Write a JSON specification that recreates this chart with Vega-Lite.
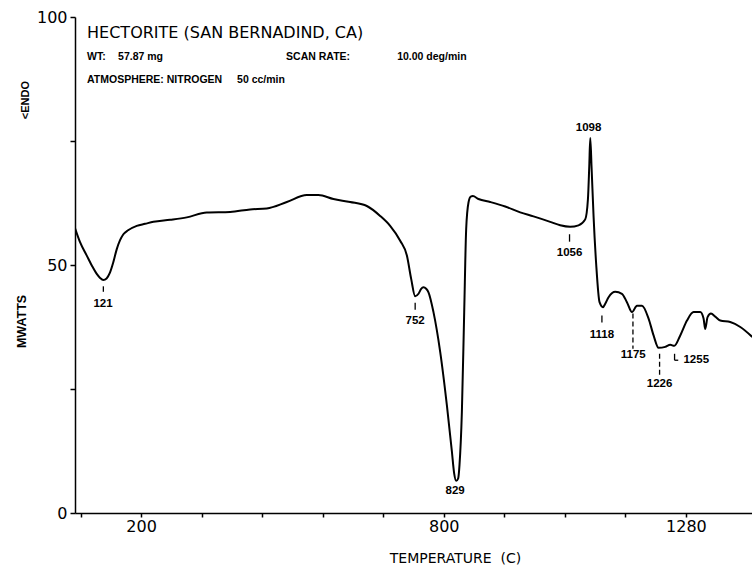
{
  "$schema": "https://vega.github.io/schema/vega-lite/v6.json",
  "autosize": "none",
  "width": 677,
  "height": 496,
  "padding": {"left": 75, "top": 17, "right": 0, "bottom": 53},
  "background": "white",
  "config": {"view": {"stroke": null}},
  "title": {"text": "<ENDO", "orient": "left", "anchor": "end", "frame": "group", "font": "Liberation Sans", "fontSize": 11, "fontWeight": "bold", "color": "black", "offset": 0, "dx": -64, "dy": 16},
  "datasets": {
    "curve": [
      {"t": 69.1, "mw": 57.4}, {"t": 79.0, "mw": 54.6}, {"t": 92.3, "mw": 51.9}, {"t": 102.8, "mw": 49.8},
      {"t": 112.1, "mw": 48.2}, {"t": 118.7, "mw": 47.4}, {"t": 125.2, "mw": 47.0}, {"t": 131.6, "mw": 47.3},
      {"t": 138.5, "mw": 48.5}, {"t": 144.5, "mw": 50.4}, {"t": 151.8, "mw": 53.2}, {"t": 158.3, "mw": 55.0},
      {"t": 164.9, "mw": 56.2}, {"t": 174.2, "mw": 57.0}, {"t": 191.4, "mw": 57.9}, {"t": 207.9, "mw": 58.3},
      {"t": 224.4, "mw": 58.7}, {"t": 257.5, "mw": 59.1}, {"t": 290.6, "mw": 59.6}, {"t": 330.2, "mw": 60.6},
      {"t": 376.5, "mw": 60.7}, {"t": 416.1, "mw": 61.2}, {"t": 449.2, "mw": 61.4}, {"t": 488.9, "mw": 62.7},
      {"t": 528.5, "mw": 64.1}, {"t": 551.5, "mw": 64.1}, {"t": 581.3, "mw": 63.3}, {"t": 614.4, "mw": 62.7},
      {"t": 647.5, "mw": 61.9}, {"t": 673.9, "mw": 59.9}, {"t": 693.7, "mw": 57.9}, {"t": 713.6, "mw": 54.9},
      {"t": 726.9, "mw": 51.9}, {"t": 735.4, "mw": 47.2}, {"t": 743.3, "mw": 43.7}, {"t": 749.9, "mw": 44.2},
      {"t": 755.2, "mw": 45.2}, {"t": 759.8, "mw": 45.5}, {"t": 765.1, "mw": 45.2}, {"t": 769.7, "mw": 44.5},
      {"t": 779.6, "mw": 40.5}, {"t": 792.9, "mw": 32.5}, {"t": 806.2, "mw": 21.7}, {"t": 816.1, "mw": 12.4},
      {"t": 820.6, "mw": 8.0}, {"t": 824.6, "mw": 6.5}, {"t": 828.6, "mw": 7.0}, {"t": 831.2, "mw": 9.7},
      {"t": 835.9, "mw": 20.4}, {"t": 840.5, "mw": 40.5}, {"t": 844.4, "mw": 57.2}, {"t": 849.0, "mw": 62.6},
      {"t": 853.4, "mw": 63.8}, {"t": 857.7, "mw": 63.9}, {"t": 868.8, "mw": 63.3}, {"t": 892.0, "mw": 62.7},
      {"t": 921.8, "mw": 61.8}, {"t": 951.5, "mw": 60.6}, {"t": 977.9, "mw": 59.8}, {"t": 1011.0, "mw": 58.7},
      {"t": 1030.8, "mw": 58.0}, {"t": 1050.6, "mw": 57.7}, {"t": 1067.1, "mw": 58.0}, {"t": 1080.4, "mw": 59.2},
      {"t": 1085.8, "mw": 63.3}, {"t": 1088.4, "mw": 69.9}, {"t": 1090.4, "mw": 75.6}, {"t": 1092.9, "mw": 69.9},
      {"t": 1096.9, "mw": 59.9}, {"t": 1102.3, "mw": 49.9}, {"t": 1108.8, "mw": 42.5}, {"t": 1115.6, "mw": 41.5},
      {"t": 1120.1, "mw": 42.2}, {"t": 1126.7, "mw": 43.5}, {"t": 1140.0, "mw": 44.6}, {"t": 1153.2, "mw": 44.2},
      {"t": 1163.1, "mw": 42.5}, {"t": 1173.1, "mw": 40.5}, {"t": 1183.0, "mw": 41.8}, {"t": 1192.9, "mw": 41.8},
      {"t": 1206.0, "mw": 39.2}, {"t": 1215.9, "mw": 35.8}, {"t": 1225.8, "mw": 33.3}, {"t": 1239.1, "mw": 33.5},
      {"t": 1249.0, "mw": 33.9}, {"t": 1257.0, "mw": 33.7}, {"t": 1268.8, "mw": 35.8}, {"t": 1282.1, "mw": 38.8},
      {"t": 1295.2, "mw": 40.5}, {"t": 1308.4, "mw": 40.5}, {"t": 1315.0, "mw": 39.2}, {"t": 1318.3, "mw": 37.1},
      {"t": 1322.9, "mw": 39.5}, {"t": 1329.7, "mw": 40.2}, {"t": 1338.2, "mw": 39.6}, {"t": 1348.1, "mw": 38.8},
      {"t": 1367.9, "mw": 38.5}, {"t": 1387.8, "mw": 37.5}, {"t": 1411.5, "mw": 35.5}
    ],
    "peaks": [
      {"label": "121", "t": 124.6, "mw": 42.2},
      {"label": "752", "t": 743.3, "mw": 38.8},
      {"label": "829", "t": 822.6, "mw": 4.4},
      {"label": "1056", "t": 1049.3, "mw": 52.5},
      {"label": "1098", "t": 1087.0, "mw": 77.7},
      {"label": "1118", "t": 1113.5, "mw": 35.9},
      {"label": "1175", "t": 1175.6, "mw": 31.8},
      {"label": "1226", "t": 1227.8, "mw": 26.1},
      {"label": "1255", "t": 1300.5, "mw": 30.8}
    ],
    "solidTicks": [
      {"t": 125.2, "t2": 125.2, "mw": 45.7, "mw2": 44.6},
      {"t": 743.3, "t2": 743.3, "mw": 42.4, "mw2": 41.0},
      {"t": 1049.3, "t2": 1049.3, "mw": 56.2, "mw2": 54.7},
      {"t": 1113.5, "t2": 1113.5, "mw": 39.8, "mw2": 38.4},
      {"t": 1257.5, "t2": 1257.5, "mw": 32.1, "mw2": 30.8},
      {"t": 1257.5, "t2": 1264.8, "mw": 30.8, "mw2": 30.8}
    ],
    "dashedTicks": [
      {"t": 1175.0, "t2": 1175.0, "mw": 40.2, "mw2": 33.1},
      {"t": 1227.8, "t2": 1227.8, "mw": 32.1, "mw2": 27.8}
    ],
    "header": [
      {"text": "HECTORITE (SAN BERNADIND, CA)", "t": 92.9, "mw": 96.8}
    ],
    "info": [
      {"text": "WT:", "t": 92.9, "mw": 92.0},
      {"text": "57.87 mg", "t": 154.4, "mw": 92.0},
      {"text": "SCAN RATE:", "t": 487.5, "mw": 92.0},
      {"text": "10.00 deg/min", "t": 707.6, "mw": 92.0},
      {"text": "ATMOSPHERE: NITROGEN", "t": 92.9, "mw": 87.2},
      {"text": "50 cc/min", "t": 390.3, "mw": 87.2}
    ]
  },
  "layer": [
    {
      "data": {"name": "curve"},
      "mark": {"type": "line", "color": "black", "strokeWidth": 2, "interpolate": "monotone", "clip": true},
      "encoding": {
        "x": {
          "field": "t", "type": "quantitative",
          "scale": {"domain": [69, 1411], "nice": false, "zero": false},
          "axis": {
            "values": [80, 200, 320, 440, 560, 680, 800, 920, 1040, 1160, 1280],
            "format": "d",
            "labelExpr": "indexof([200, 800, 1280], datum.value) >= 0 ? datum.label : ''",
            "grid": false, "tickSize": 4, "tickWidth": 1.5, "tickColor": "black",
            "domainColor": "black", "domainWidth": 1.5,
            "labelFont": "DejaVu Sans", "labelFontSize": 16, "labelColor": "black", "labelPadding": 1,
            "labelFlush": false,
            "title": "TEMPERATURE\u00a0\u00a0(C)", "titleFont": "DejaVu Sans", "titleFontSize": 14, "titleFontWeight": "normal",
            "titleColor": "black", "titleX": 380, "titleY": 45, "titleBaseline": "middle", "titleAlign": "center"
          }
        },
        "y": {
          "field": "mw", "type": "quantitative",
          "scale": {"domain": [0, 100], "nice": false},
          "axis": {
            "values": [0, 25, 50, 75, 100],
            "labelExpr": "indexof([0, 50, 100], datum.value) >= 0 ? datum.label : ''",
            "grid": false, "tickSize": 5, "tickWidth": 1.5, "tickColor": "black",
            "domainColor": "black", "domainWidth": 1.5,
            "labelFont": "DejaVu Sans", "labelFontSize": 16, "labelColor": "black", "labelPadding": 3,
            "labelFlush": false,
            "title": "MWATTS", "titleFont": "Liberation Sans", "titleFontSize": 12.5, "titleFontWeight": "bold",
            "titleColor": "black", "titleX": -54, "titleY": 304, "titleBaseline": "middle", "titleAngle": 270
          }
        }
      }
    },
    {
      "mark": {"type": "rule", "color": "black", "strokeWidth": 1.5},
      "encoding": {"y": {"datum": 100}}
    },
    {
      "data": {"name": "solidTicks"},
      "mark": {"type": "rule", "color": "black", "strokeWidth": 1.3},
      "encoding": {
        "x": {"field": "t", "type": "quantitative"},
        "x2": {"field": "t2"},
        "y": {"field": "mw", "type": "quantitative"},
        "y2": {"field": "mw2"}
      }
    },
    {
      "data": {"name": "dashedTicks"},
      "mark": {"type": "rule", "color": "black", "strokeWidth": 1.3, "strokeDash": [5, 3]},
      "encoding": {
        "x": {"field": "t", "type": "quantitative"},
        "x2": {"field": "t2"},
        "y": {"field": "mw", "type": "quantitative"},
        "y2": {"field": "mw2"}
      }
    },
    {
      "data": {"name": "peaks"},
      "mark": {"type": "text", "font": "Liberation Sans", "fontSize": 11.5, "fontWeight": "bold", "color": "black", "align": "center", "baseline": "middle"},
      "encoding": {
        "x": {"field": "t", "type": "quantitative"},
        "y": {"field": "mw", "type": "quantitative"},
        "text": {"field": "label"}
      }
    },
    {
      "data": {"name": "header"},
      "mark": {"type": "text", "font": "DejaVu Sans", "fontSize": 16, "color": "black", "align": "left", "baseline": "middle"},
      "encoding": {
        "x": {"field": "t", "type": "quantitative"},
        "y": {"field": "mw", "type": "quantitative"},
        "text": {"field": "text"}
      }
    },
    {
      "data": {"name": "info"},
      "mark": {"type": "text", "font": "Liberation Sans", "fontSize": 10.5, "fontWeight": "bold", "color": "black", "align": "left", "baseline": "middle"},
      "encoding": {
        "x": {"field": "t", "type": "quantitative"},
        "y": {"field": "mw", "type": "quantitative"},
        "text": {"field": "text"}
      }
    }
  ]
}
